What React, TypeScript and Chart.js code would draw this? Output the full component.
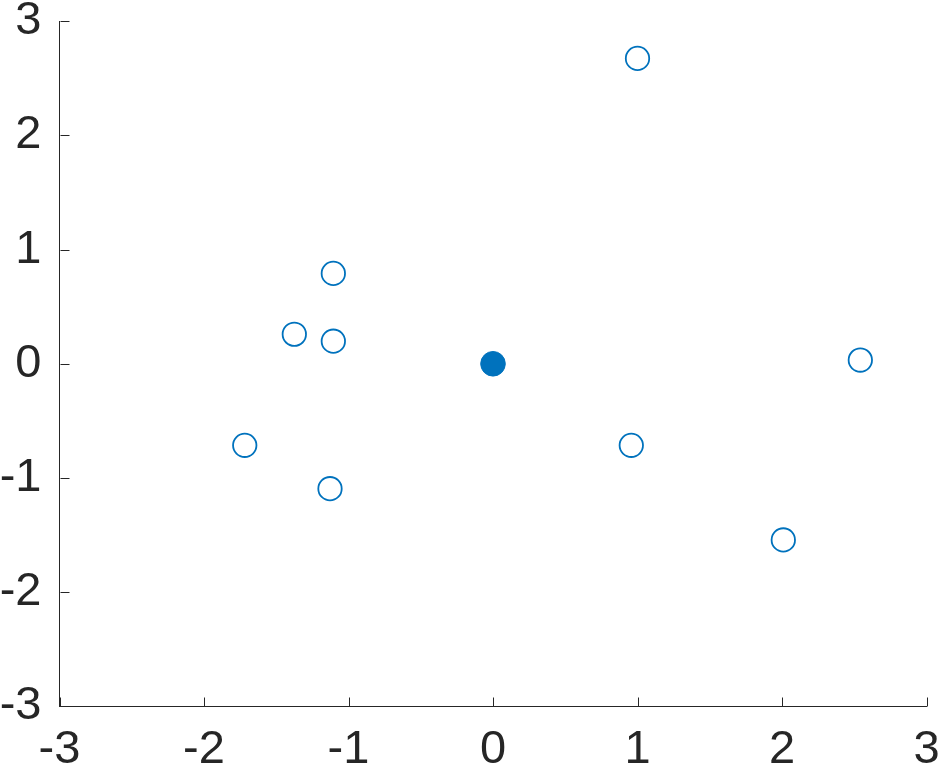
import React, { useEffect, useRef } from "react";
import { Chart, registerables } from "chart.js";

Chart.register(...registerables);

const xValues: number[] = [1.0, -1.105, -1.375, -1.105, 2.542, -1.718, 0.957, -1.128, 2.009];
const yValues: number[] = [2.675, 0.792, 0.259, 0.198, 0.033, -0.714, -0.714, -1.094, -1.543];
const centerX: number[] = [0];
const centerY: number[] = [0];
const tickValues: number[] = [-3, -2, -1, 0, 1, 2, 3];

const BLUE = "#0072BD";
const AXIS = "#262626";
const FONT = "'Liberation Sans', Arial, Helvetica, sans-serif";

const inwardTicks = {
  id: "inwardTicks",
  afterDraw(chart: any) {
    const ctx = chart.ctx;
    const xs = chart.scales.x;
    const ys = chart.scales.y;
    const area = chart.chartArea;
    const len = 9;
    ctx.save();
    ctx.strokeStyle = AXIS;
    ctx.lineWidth = 1;
    ctx.beginPath();
    for (const v of tickValues) {
      const px = Math.round(xs.getPixelForValue(v)) + 0.5;
      const bottom = Math.round(area.bottom) + 0.5;
      ctx.moveTo(px, bottom);
      ctx.lineTo(px, bottom - len);
      const py = Math.round(ys.getPixelForValue(v)) + 0.5;
      const left = Math.round(area.left) + 0.5;
      ctx.moveTo(left, py);
      ctx.lineTo(left + len, py);
    }
    ctx.stroke();
    ctx.restore();
  },
};

export default function App() {
  const ref = useRef<HTMLCanvasElement | null>(null);

  useEffect(() => {
    document.body.style.margin = "0";
    const canvas = ref.current;
    if (!canvas) return;
    const chart = new Chart(canvas, {
      type: "scatter",
      data: {
        datasets: [
          {
            data: xValues.map((x, i) => ({ x, y: yValues[i] })),
            pointRadius: 11.7,
            pointHoverRadius: 11.7,
            pointBorderWidth: 1.8,
            pointBorderColor: BLUE,
            pointBackgroundColor: "rgba(0,0,0,0)",
            showLine: false,
          },
          {
            data: centerX.map((x, i) => ({ x, y: centerY[i] })),
            pointRadius: 12.3,
            pointHoverRadius: 12.3,
            pointBorderWidth: 1,
            pointBorderColor: BLUE,
            pointBackgroundColor: BLUE,
            showLine: false,
          },
        ],
      },
      options: {
        responsive: false,
        animation: false,
        events: [],
        layout: { padding: { top: 21.3, right: 18.5, left: 0, bottom: 0 } },
        plugins: { legend: { display: false }, tooltip: { enabled: false } },
        scales: {
          x: {
            type: "linear",
            position: "bottom",
            min: -3,
            max: 3,
            afterBuildTicks: (s: any) => {
              s.ticks = tickValues.map((v) => ({ value: v }));
            },
            afterFit: (s: any) => {
              s.height = 69.7;
              s.paddingLeft = 0;
              s.paddingRight = 0;
              s.paddingTop = 0;
              s.paddingBottom = 0;
            },
            grid: { display: false, drawTicks: false },
            border: { display: true, color: AXIS, width: 1 },
            ticks: {
              padding: 16,
              color: AXIS,
              font: { family: FONT, size: 47 },
              maxRotation: 0,
              autoSkip: false,
              callback: (v: any) => String(v),
            },
          },
          y: {
            type: "linear",
            position: "left",
            min: -3,
            max: 3,
            afterBuildTicks: (s: any) => {
              s.ticks = tickValues.map((v) => ({ value: v }));
            },
            afterFit: (s: any) => {
              s.width = 59.5;
              s.paddingLeft = 0;
              s.paddingRight = 0;
              s.paddingTop = 0;
              s.paddingBottom = 0;
            },
            grid: { display: false, drawTicks: false },
            border: { display: true, color: AXIS, width: 1 },
            ticks: {
              padding: 18,
              color: AXIS,
              font: { family: FONT, size: 47 },
              autoSkip: false,
              callback: (v: any) => String(v),
            },
          },
        },
      },
      plugins: [inwardTicks],
    });
    return () => chart.destroy();
  }, []);

  return (
    <div style={{ position: "fixed", left: 0, top: 0, width: 945, height: 776, background: "#fff" }}>
      <canvas ref={ref} width={945} height={776} style={{ width: 945, height: 776, display: "block" }} />
    </div>
  );
}
